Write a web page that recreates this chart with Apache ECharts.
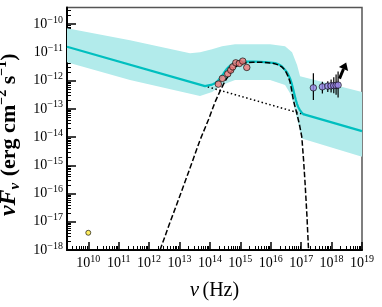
<!DOCTYPE html>
<html><head><meta charset="utf-8">
<script src="https://cdn.jsdelivr.net/npm/echarts@6/dist/echarts.min.js"></script>
<style>html,body{margin:0;padding:0;background:#fff}#c{width:382px;height:307px}</style>
</head><body><div id="c"></div>
<script>
// All values are log10: x = log10(nu / Hz), y = log10(nuFnu / erg cm^-2 s^-1)
const xTickExps = [10, 11, 12, 13, 14, 15, 16, 17, 18, 19];
const yTickExps = [-18, -17, -16, -15, -14, -13, -12, -11, -10];

// power-law component (dotted, visible where it departs from the total)
const plLogNu = [13.80, 17.10];
const plLogF  = [-12.18, -13.20];

// thermal bump component (dashed)
const bumpLogNu = [12.36, 12.655, 12.961, 13.345, 13.674, 13.947, 14.168, 14.332, 14.497, 14.661, 14.826, 14.990, 15.120, 15.253, 15.420, 15.582, 15.750, 15.911, 16.050, 16.174, 16.280, 16.372, 16.440, 16.503, 16.570, 16.635, 16.690, 16.743, 16.800, 16.855, 16.947, 17.020, 17.079, 17.128, 17.188, 17.237, 17.243];
const bumpLogF  = [-18.0, -17.115, -16.230, -15.097, -14.106, -13.398, -12.761, -12.372, -12.018, -11.735, -11.522, -11.416, -11.382, -11.363, -11.350, -11.345, -11.350, -11.363, -11.385, -11.416, -11.460, -11.522, -11.595, -11.699, -11.850, -12.053, -12.350, -12.690, -12.930, -13.150, -13.575, -13.989, -14.814, -15.628, -16.761, -17.883, -18.0];

// total model (solid cyan)
const totalLogNu = [9.3, 13.839, 14.069, 14.160, 14.234, 14.300, 14.365, 14.430, 14.497, 14.560, 14.628, 14.690, 14.760, 14.840, 14.924, 15.155, 15.484, 15.813, 16.141, 16.230, 16.306, 16.375, 16.438, 16.505, 16.569, 16.630, 16.684, 16.735, 16.783, 16.825, 16.865, 16.905, 16.947, 17.000, 17.063, 19.0];
const totalLogF  = [-10.80, -12.195, -12.142, -12.095, -12.035, -11.960, -11.876, -11.775, -11.664, -11.580, -11.504, -11.445, -11.398, -11.365, -11.345, -11.327, -11.327, -11.345, -11.381, -11.410, -11.451, -11.505, -11.575, -11.665, -11.770, -11.915, -12.088, -12.300, -12.513, -12.690, -12.832, -12.940, -13.027, -13.110, -13.186, -13.788];

// model uncertainty band
const bandUpLogNu = [9.3, 11.372, 13.345, 13.674, 14.069, 14.398, 14.826, 15.977, 16.470, 16.701, 16.865, 16.964, 19.0];
const bandUpLogF  = [-10.142, -10.566, -11.027, -10.991, -10.885, -10.779, -10.708, -10.708, -10.779, -10.991, -11.451, -11.841, -12.407];
const bandLoLogNu = [9.3, 11.372, 13.674, 14.069, 14.398, 14.826, 15.977, 16.470, 16.668, 16.832, 17.020, 19.0];
const bandLoLogF  = [-11.345, -11.982, -12.549, -12.407, -12.159, -11.982, -11.982, -12.159, -12.513, -13.221, -14.046, -14.697];

// radio point (yellow)
const radioLogNu = [10.0];
const radioLogF  = [-17.39];

// optical/UV points (red)
const optLogNu = [14.276, 14.408, 14.586, 14.684, 14.750, 14.849, 14.967, 15.079, 15.211];
const optLogF  = [-12.124, -11.922, -11.759, -11.628, -11.512, -11.370, -11.391, -11.310, -11.533];

// X-ray points (purple) with error bars
const xrayLogNu = [17.401, 17.697, 17.875, 17.984, 18.072, 18.148, 18.214];
const xrayLogF  = [-12.255, -12.219, -12.195, -12.184, -12.177, -12.170, -12.159];
const xrayLo    = [-12.690, -12.453, -12.40, -12.42, -12.45, -12.50, -12.60];
const xrayHi    = [-11.735, -12.042, -12.02, -11.96, -11.88, -11.78, -11.68];

// arrow (tail -> head)
const arrowLogNu = [18.26, 18.48];
const arrowLogF  = [-11.93, -11.36];

const FONT = 'Liberation Serif';
const zip = (a, b) => a.map((v, i) => [v, b[i]]);
function minorOf(exps, lo, hi) {
  const out = [];
  for (let n = Math.min(...exps) - 1; n <= Math.max(...exps); n++) {
    for (let k = 2; k <= 9; k++) {
      const v = n + Math.log10(k);
      if (v > lo && v < hi) out.push(v);
    }
  }
  return out;
}
const X_MIN = 9.3, X_MAX = 19.0, Y_MIN = -18.0, Y_MAX = -9.41;
const expLabel = v => '{b|10}{s|' + (v < 0 ? '\u2212' + (-v) : v) + '}';
const labelRich = {
  b: {fontFamily: FONT, fontSize: 14, color: '#000', lineHeight: 18},
  s: {fontFamily: FONT, fontSize: 10, color: '#000', verticalAlign: 'top', lineHeight: 9}
};

const chart = echarts.init(document.getElementById('c'), null, {renderer: 'canvas'});
const option = {
  animation: false,
  grid: {left: 67, right: 20, top: 7.5, bottom: 57, show: true, borderColor: '#555', borderWidth: 1.5,
         outerBoundsMode: 'none', containLabel: false},
  xAxis: [{
    type: 'value', min: X_MIN, max: X_MAX, position: 'bottom',
    axisLine: {show: true, onZero: false, lineStyle: {color: '#000', width: 2}},
    axisTick: {show: true, inside: true, length: 8, lineStyle: {color: '#000', width: 1.5}, customValues: xTickExps},
    axisLabel: {show: true, margin: 4, customValues: xTickExps, formatter: expLabel, rich: labelRich},
    splitLine: {show: false},
    name: '{i|\u03bd} {r|(Hz)}', nameLocation: 'middle', nameGap: 30,
    nameTextStyle: {rich: {
      i: {fontFamily: FONT, fontStyle: 'italic', fontSize: 21, color: '#000'},
      r: {fontFamily: FONT, fontSize: 20, color: '#000'}
    }}
  }, {
    type: 'value', min: X_MIN, max: X_MAX, position: 'bottom',
    axisLine: {show: false},
    axisTick: {show: true, inside: true, length: 4, lineStyle: {color: '#000', width: 1}, customValues: minorOf(xTickExps, X_MIN, X_MAX)},
    axisLabel: {show: false}, splitLine: {show: false}
  }],
  yAxis: [{
    type: 'value', min: Y_MIN, max: Y_MAX, position: 'left',
    axisLine: {show: true, onZero: false, lineStyle: {color: '#000', width: 2}},
    axisTick: {show: true, inside: true, length: 9, lineStyle: {color: '#000', width: 1.5}, customValues: yTickExps},
    axisLabel: {show: true, margin: 4, customValues: yTickExps, formatter: expLabel, rich: labelRich},
    splitLine: {show: false},
    name: '{i|\u03bdF}{sub|\u03bd}{r| (erg cm}{sup|\u22122}{r| s}{sup|\u22121}{r|)}',
    nameLocation: 'middle', nameRotate: 90, nameGap: 40,
    nameTextStyle: {padding: [0, 12, 0, 0], rich: {
      i: {fontFamily: FONT, fontStyle: 'italic', fontWeight: 'bold', fontSize: 24, color: '#000', lineHeight: 27},
      sub: {fontFamily: FONT, fontStyle: 'italic', fontWeight: 'bold', fontSize: 15, color: '#000', verticalAlign: 'bottom', lineHeight: 19, padding: [0, 1, 0, 0]},
      r: {fontFamily: FONT, fontWeight: 'bold', fontSize: 22, color: '#000', lineHeight: 27},
      sup: {fontFamily: FONT, fontWeight: 'bold', fontSize: 14, color: '#000', verticalAlign: 'top', lineHeight: 12}
    }}
  }, {
    type: 'value', min: Y_MIN, max: Y_MAX, position: 'left',
    axisLine: {show: false},
    axisTick: {show: true, inside: true, length: 4, lineStyle: {color: '#000', width: 1}, customValues: minorOf(yTickExps, Y_MIN, Y_MAX)},
    axisLabel: {show: false}, splitLine: {show: false}
  }],
  series: [
    {
      type: 'custom', name: 'band', coordinateSystem: 'cartesian2d', xAxisIndex: 0, yAxisIndex: 0,
      data: [[bandUpLogNu[0], bandUpLogF[0]]], z: 1, clip: true,
      renderItem: (params, api) => {
        const pts = [];
        bandUpLogNu.forEach((x, i) => pts.push(api.coord([x, bandUpLogF[i]])));
        for (let i = bandLoLogNu.length - 1; i >= 0; i--) pts.push(api.coord([bandLoLogNu[i], bandLoLogF[i]]));
        return {type: 'polygon', shape: {points: pts}, style: {fill: '#b2ebeb'}};
      }
    },
    {
      type: 'line', name: 'power law', data: zip(plLogNu, plLogF), showSymbol: false, z: 3,
      lineStyle: {color: '#000', width: 1.5, type: [1.5, 2.5]}
    },
    {
      type: 'line', name: 'total', data: zip(totalLogNu, totalLogF), showSymbol: false, smooth: false, z: 4,
      lineStyle: {color: '#00bfbf', width: 2.2, join: 'round'}
    },
    {
      type: 'line', name: 'bump', data: zip(bumpLogNu, bumpLogF), showSymbol: false, smooth: false, z: 5,
      lineStyle: {color: '#000', width: 1.5, type: [5.5, 2.4], join: 'round'}
    },
    {
      type: 'custom', name: 'xray errors', coordinateSystem: 'cartesian2d', z: 6,
      data: xrayLogNu.map((x, i) => [x, xrayLo[i], xrayHi[i]]),
      encode: {x: 0, y: [1, 2]},
      renderItem: (params, api) => {
        const a = api.coord([api.value(0), api.value(1)]);
        const b = api.coord([api.value(0), api.value(2)]);
        return {type: 'line', shape: {x1: a[0], y1: a[1], x2: b[0], y2: b[1]}, style: {stroke: '#000', lineWidth: 1.2}};
      }
    },
    {
      type: 'custom', name: 'arrow', coordinateSystem: 'cartesian2d', z: 6,
      data: [[arrowLogNu[0], arrowLogF[0], arrowLogNu[1], arrowLogF[1]]],
      encode: {x: [0, 2], y: [1, 3]},
      renderItem: (params, api) => {
        const t = api.coord([api.value(0), api.value(1)]);
        const h = api.coord([api.value(2), api.value(3)]);
        const dx = h[0] - t[0], dy = h[1] - t[1];
        const len = Math.hypot(dx, dy), ux = dx / len, uy = dy / len;
        const hl = 7, hw = 5;
        const bx = h[0] - ux * hl, by = h[1] - uy * hl;
        return {type: 'group', children: [
          {type: 'line', shape: {x1: t[0], y1: t[1], x2: bx, y2: by}, style: {stroke: '#000', lineWidth: 3}},
          {type: 'polygon', shape: {points: [[h[0], h[1]], [bx - uy * hw, by + ux * hw], [bx + uy * hw, by - ux * hw]]}, style: {fill: '#000'}}
        ]};
      }
    },
    {
      type: 'scatter', name: 'radio', data: zip(radioLogNu, radioLogF), symbolSize: 5, z: 7,
      itemStyle: {color: '#ffea3a', borderColor: '#000', borderWidth: 0.8}
    },
    {
      type: 'scatter', name: 'optical', data: zip(optLogNu, optLogF), symbolSize: 6.5, z: 7,
      itemStyle: {color: '#f07878', borderColor: '#000', borderWidth: 0.8}
    },
    {
      type: 'scatter', name: 'xray', data: zip(xrayLogNu, xrayLogF), symbolSize: 6.5, z: 7,
      itemStyle: {color: '#9a86e6', borderColor: '#000', borderWidth: 0.8}
    }
  ]
};
chart.setOption(option);
</script></body></html>
